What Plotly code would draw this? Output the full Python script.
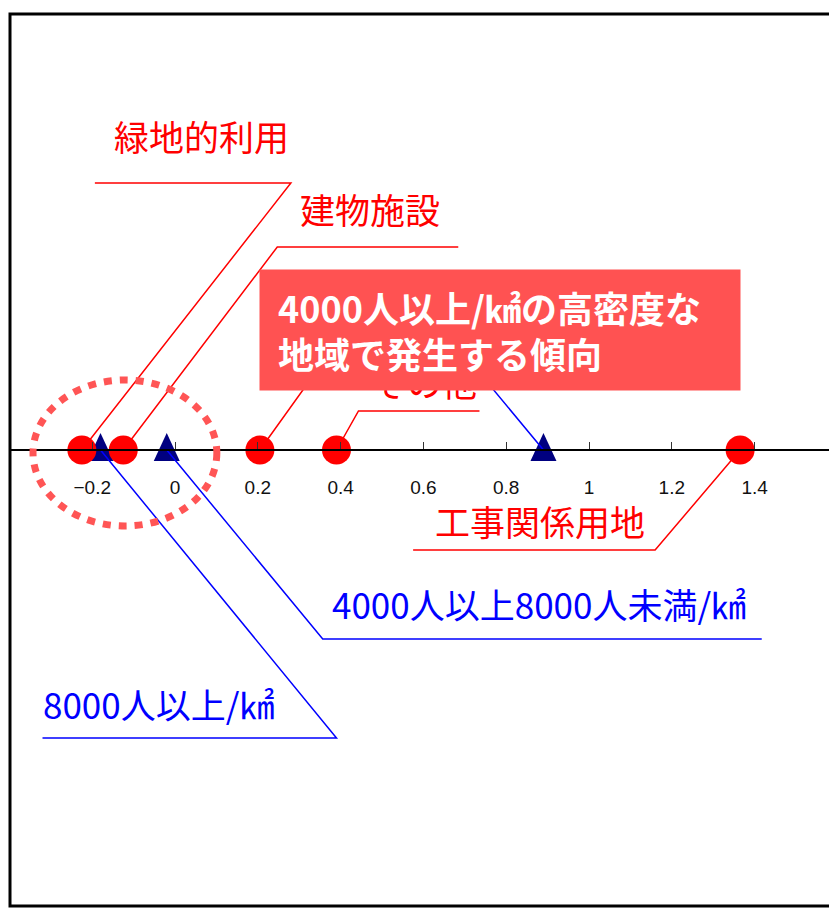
import plotly.graph_objects as go

# land-use categories (red circles)
use_x = [-0.225, -0.125, 0.205, 0.39, 1.365]
use_labels = ["緑地的利用", "建物施設", None, "その他", "工事関係用地"]

# population density classes (navy triangles)
dens_x = [-0.18, -0.02, 0.89]
dens_labels = ["8000人以上/㎢", "4000人以上8000人未満/㎢", None]

tick_vals = [-0.2, 0, 0.2, 0.4, 0.6, 0.8, 1, 1.2, 1.4]

note_text = "<b>4000人以上/㎢の高密度な<br>地域で発生する傾向</b>"

# leader placement in pixels relative to each point: elbow (dx, dy), underline end dx, text centre (dx, dy)
use_leaders = [
    (209, 267, 13, 120, 315),
    (154, 203, 335, 247, 242),
    (86, 120, 200, None, None),
    (22, 39, 143, 88, 69),
    (-85, -100, -327, -200, -70),
]
dens_leaders = [
    (236, -288, -58, 58, -253),
    (156, -189, 595, 372, -153),
    (-83, 100, -243, None, None),
]

JP = "Noto Sans CJK JP"
RED = "#FF0000"
BLUE = "#0000FF"
NAVY = "#000080"

fig = go.Figure()

fig.add_trace(go.Scatter(
    x=use_x, y=[0] * len(use_x), mode="markers",
    marker=dict(symbol="circle", size=29, color=RED),
    hoverinfo="skip"))

shapes = []
annotations = []

# triangles are taller than plotly's triangle-up, so they are drawn as
# pixel-sized paths anchored on the x axis, beneath the circles
for x in dens_x:
    shapes.append(dict(
        type="path", xref="x", yref="y",
        xsizemode="pixel", ysizemode="pixel", xanchor=x, yanchor=0,
        path="M-13,-11 L13,-11 L0,17 Z",
        fillcolor=NAVY, line=dict(width=0), layer="below"))


def add_leader(x, lab, lead, color, size):
    ex, ey, ux, tx, ty = lead
    shapes.append(dict(
        type="path", xref="x", yref="y",
        xsizemode="pixel", ysizemode="pixel", xanchor=x, yanchor=0,
        path=f"M0,0 L{ex},{ey} L{ux},{ey}",
        line=dict(color=color, width=1.5), layer="below"))
    if lab:
        annotations.append(dict(
            x=x, y=0, xref="x", yref="y", xshift=tx, yshift=ty,
            text=lab, showarrow=False, xanchor="center", yanchor="middle",
            font=dict(family=JP, size=size, color=color)))


for x, lab, lead in zip(use_x, use_labels, use_leaders):
    add_leader(x, lab, lead, RED, 35)
for x, lab, lead in zip(dens_x, dens_labels, dens_leaders):
    add_leader(x, lab, lead, BLUE, 35)

# dotted ring around the low-value cluster
shapes.append(dict(
    type="circle", xref="x", yref="y", x0=-0.343, x1=0.101, y0=-76, y1=70,
    line=dict(color="#FF5555", width=7, dash="8px,8px"), layer="above"))

# outer frame
shapes.append(dict(
    type="rect", xref="paper", yref="paper", x0=0, x1=1, y0=0, y1=1,
    line=dict(color="black", width=3), layer="above"))

# highlight box (last, so it covers the hidden labels)
annotations.append(dict(
    x=0.5932, y=0.6457, xref="paper", yref="paper",
    xanchor="center", yanchor="middle", showarrow=False,
    text=note_text, align="left", valign="middle",
    width=444, height=84, borderpad=18, bgcolor="#FF5252",
    font=dict(family=JP, size=36, color="white")))

# the page body adds an 8px offset, so the figure is trimmed by that much
fig.update_layout(
    width=829, height=901,
    margin=dict(l=2, r=1, t=6, b=3),
    paper_bgcolor="white", plot_bgcolor="white",
    showlegend=False, hovermode=False,
    shapes=shapes, annotations=annotations,
    xaxis=dict(
        range=[-0.3986, 1.5966], anchor="free", position=0.5112,
        showline=True, linecolor="black", linewidth=2,
        showgrid=False, zeroline=False,
        tickvals=tick_vals, ticks="inside", ticklen=7, tickwidth=1,
        tickcolor="#333333", ticklabelstandoff=20,
        tickfont=dict(family="Liberation Sans", size=19, color="#111111")),
    yaxis=dict(range=[-456, 436], visible=False, showgrid=False, zeroline=False),
)

fig.write_html("out.html")
